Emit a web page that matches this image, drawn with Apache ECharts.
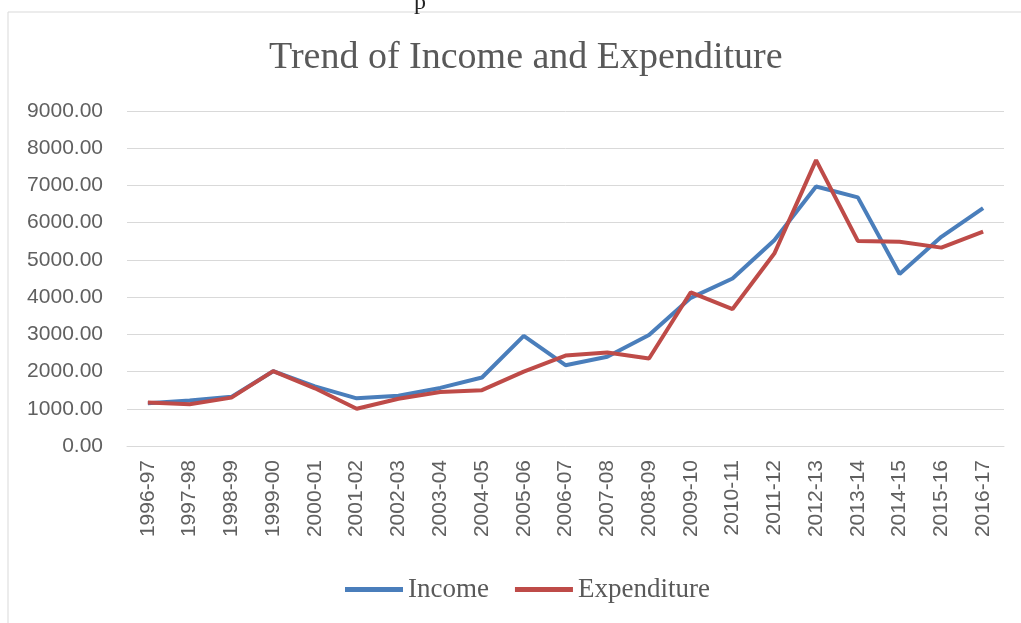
<!DOCTYPE html>
<html>
<head>
<meta charset="utf-8">
<style>
html,body{margin:0;padding:0;background:#fff;}
#chart{width:1021px;height:623px;}
</style>
<script src="https://cdn.jsdelivr.net/npm/echarts@6/dist/echarts.min.js"></script>
</head>
<body>
<div id="chart"></div>
<script>
const categories = ["1996-97","1997-98","1998-99","1999-00","2000-01","2001-02","2002-03","2003-04","2004-05","2005-06","2006-07","2007-08","2008-09","2009-10","2010-11","2011-12","2012-13","2013-14","2014-15","2015-16","2016-17"];
const income = [1150,1220,1320,2010,1600,1280,1350,1560,1840,2960,2170,2400,2980,3980,4500,5530,6970,6680,4620,5620,6390];
const expenditure = [1170,1120,1300,2010,1550,1000,1270,1450,1500,2000,2430,2510,2350,4130,3680,5170,7680,5510,5490,5330,5760];

const chart = echarts.init(document.getElementById('chart'));
chart.setOption({
  backgroundColor: '#fff',
  animation: false,
  title: {
    text: 'Trend of Income and Expenditure',
    left: 264,
    top: 34,
    textStyle: {fontFamily: 'Liberation Serif', fontSize: 38, fontWeight: 'normal', color: '#595959'}
  },
  graphic: [{
    type: 'rect', shape: {x: 8, y: 12, width: 1040, height: 640},
    style: {fill: 'none', stroke: '#d9d9d9', lineWidth: 1}, silent: true
  }, {
    type: 'text', left: 414, top: -9, silent: true,
    style: {text: 'p', fontFamily: 'Liberation Serif', fontSize: 24, fill: '#222'}
  }],
  legend: {
    top: 571,
    left: 340,
    itemWidth: 58,
    itemHeight: 5,
    itemGap: 26,
    icon: 'rect',
    textStyle: {fontFamily: 'Liberation Serif', fontSize: 27, color: '#595959'},
    data: ['Income', 'Expenditure']
  },
  grid: {left: 127, right: 17, top: 111, bottom: 177},
  xAxis: {
    type: 'category',
    data: categories,
    boundaryGap: true,
    axisLine: {show: true, lineStyle: {color: '#d9d9d9'}},
    axisTick: {show: false},
    axisLabel: {rotate: 90, interval: 0, margin: 14, fontFamily: 'Liberation Sans', fontSize: 21, color: '#606060'}
  },
  yAxis: {
    type: 'value',
    min: 0, max: 9000, interval: 1000,
    axisLine: {show: false},
    axisTick: {show: false},
    splitLine: {lineStyle: {color: '#d9d9d9', width: 1}},
    axisLabel: {formatter: v => v.toFixed(2), margin: 24, fontFamily: 'Liberation Sans', fontSize: 21, color: '#606060'}
  },
  series: [
    {name: 'Income', type: 'line', data: income, symbol: 'none', lineStyle: {width: 4, color: '#4a7ebb'}, itemStyle: {color: '#4a7ebb'}},
    {name: 'Expenditure', type: 'line', data: expenditure, symbol: 'none', lineStyle: {width: 4, color: '#be4b48'}, itemStyle: {color: '#be4b48'}}
  ]
});
</script>
</body>
</html>
